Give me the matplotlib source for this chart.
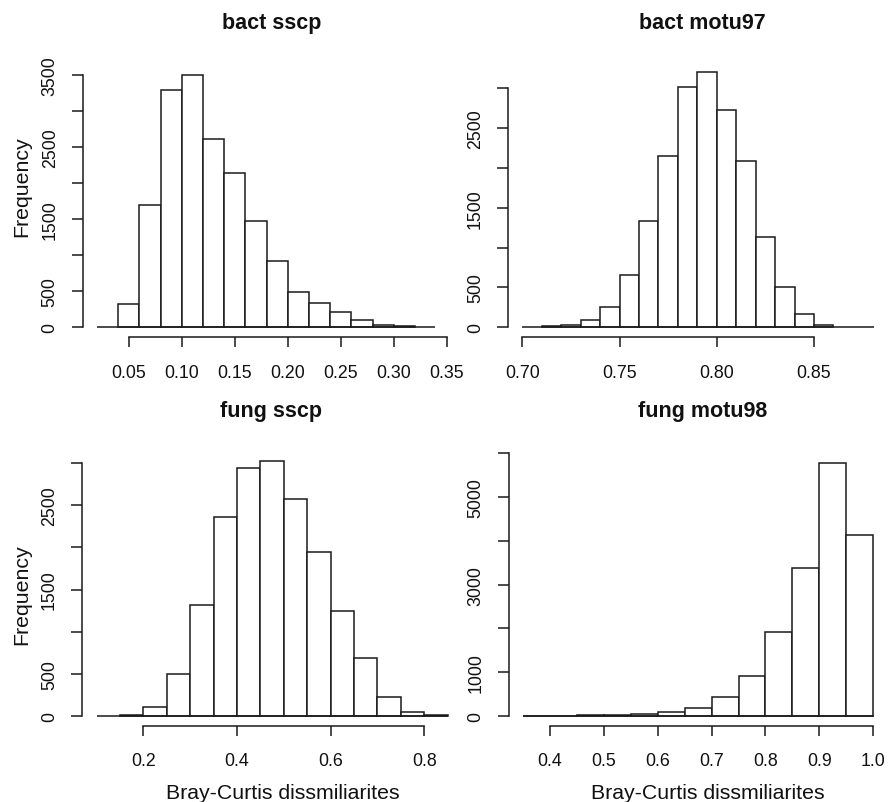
import matplotlib
matplotlib.use("Agg")
import matplotlib.pyplot as plt
import numpy as np

plt.rcParams['font.family'] = ['Liberation Sans', 'DejaVu Sans']

# ---------------- data ----------------
titles = ["bact sscp", "bact motu97", "fung sscp", "fung motu98"]

bact_sscp_start = 0.04
bact_sscp_width = 0.02
bact_sscp_counts = [324, 1697, 3293, 3501, 2613, 2137, 1480, 916, 490, 342, 213, 102, 32, 12]

bact_motu97_start = 0.71
bact_motu97_width = 0.01
bact_motu97_counts = [13, 30, 93, 250, 653, 1339, 2148, 3017, 3208, 2733, 2093, 1136, 500, 161, 30]

fung_sscp_start = 0.15
fung_sscp_width = 0.05
fung_sscp_counts = [8, 108, 500, 1312, 2356, 2940, 3028, 2580, 1948, 1248, 680, 220, 40, 8]

fung_motu98_start = 0.35
fung_motu98_width = 0.05
fung_motu98_counts = [2, 5, 20, 25, 50, 90, 175, 430, 910, 1916, 3389, 5786, 4145]

bact_sscp_xticks = [0.05, 0.10, 0.15, 0.20, 0.25, 0.30, 0.35]
bact_sscp_xlabels = ["0.05", "0.10", "0.15", "0.20", "0.25", "0.30", "0.35"]
bact_motu97_xticks = [0.70, 0.75, 0.80, 0.85]
bact_motu97_xlabels = ["0.70", "0.75", "0.80", "0.85"]
fung_sscp_xticks = [0.2, 0.4, 0.6, 0.8]
fung_sscp_xlabels = ["0.2", "0.4", "0.6", "0.8"]
fung_motu98_xticks = [0.4, 0.5, 0.6, 0.7, 0.8, 0.9, 1.0]
fung_motu98_xlabels = ["0.4", "0.5", "0.6", "0.7", "0.8", "0.9", "1.0"]

bact_sscp_yticks = [0, 500, 1000, 1500, 2000, 2500, 3000, 3500]
bact_sscp_ylabels = ["0", "500", "", "1500", "", "2500", "", "3500"]
bact_motu97_yticks = [0, 500, 1000, 1500, 2000, 2500, 3000]
bact_motu97_ylabels = ["0", "500", "", "1500", "", "2500", ""]
fung_sscp_yticks = [0, 500, 1000, 1500, 2000, 2500, 3000]
fung_sscp_ylabels = ["0", "500", "", "1500", "", "2500", ""]
fung_motu98_yticks = [0, 1000, 2000, 3000, 4000, 5000, 6000]
fung_motu98_ylabels = ["0", "1000", "", "3000", "", "5000", ""]

xlab = "Bray-Curtis dissmiliarites"
ylab = "Frequency"

# ---------------- layout (pixels) ----------------
W, H = 888, 803
fig = plt.figure(figsize=(W / 100, H / 100), dpi=100)

LC = "#1a1a1a"
LW = 1.1

def add_panel(px_left, px_right, px_bottom, px_top, xlim, ylim, baseline,
              start, width, counts, xticks, xlabels, yticks, ylabels):
    ax = fig.add_axes([px_left / W, 1 - px_bottom / H,
                       (px_right - px_left) / W, (px_bottom - px_top) / H])
    ax.set_xlim(*xlim)
    ax.set_ylim(*ylim)
    lefts = [start + i * width for i in range(len(counts))]
    ax.bar(lefts, counts, width=width, align='edge', facecolor='white',
           edgecolor=LC, linewidth=LW, clip_on=False, zorder=2)
    ax.hlines(0, baseline[0], baseline[1], color=LC, linewidth=LW, zorder=3,
              clip_on=False)
    for s in ['top', 'right']:
        ax.spines[s].set_visible(False)
    ax.spines['left'].set_position(('outward', 10.2))
    ax.spines['bottom'].set_position(('outward', 7.2))
    ax.spines['left'].set_bounds(yticks[0], yticks[-1])
    ax.spines['bottom'].set_bounds(xticks[0], xticks[-1])
    for s in ['left', 'bottom']:
        ax.spines[s].set_linewidth(LW)
        ax.spines[s].set_color(LC)
    ax.set_xticks(xticks)
    ax.set_xticklabels(xlabels)
    ax.set_yticks(yticks)
    ax.set_yticklabels(ylabels)
    ax.tick_params(axis='x', length=7.5, width=LW, color=LC, pad=11.5,
                   labelsize=12.8, labelcolor='#111111')
    ax.tick_params(axis='y', length=8, width=LW, color=LC, pad=9.5,
                   labelsize=12.8, labelcolor='#111111', labelrotation=90)
    for lbl in ax.get_yticklabels():
        lbl.set_verticalalignment('center')
    ax.patch.set_alpha(0)
    return ax

add_panel(97.1, 446.9, 328.3, 76.0, (0.02, 0.3501), (0, 3500), (0.02, 0.339),
          bact_sscp_start, bact_sscp_width, bact_sscp_counts,
          bact_sscp_xticks, bact_sscp_xlabels, bact_sscp_yticks, bact_sscp_ylabels)
add_panel(522.3, 874.3, 328.3, 89.3, (0.70, 0.881), (0, 3000), (0.70, 0.881),
          bact_motu97_start, bact_motu97_width, bact_motu97_counts,
          bact_motu97_xticks, bact_motu97_xlabels, bact_motu97_yticks, bact_motu97_ylabels)
add_panel(96.5, 447.7, 716.7, 464.3, (0.10, 0.85), (0, 3000), (0.10, 0.85),
          fung_sscp_start, fung_sscp_width, fung_sscp_counts,
          fung_sscp_xticks, fung_sscp_xlabels, fung_sscp_yticks, fung_sscp_ylabels)
add_panel(523.1, 874.3, 717.0, 454.3, (0.35, 1.002), (0, 6000), (0.35, 1.002),
          fung_motu98_start, fung_motu98_width, fung_motu98_counts,
          fung_motu98_xticks, fung_motu98_xlabels, fung_motu98_yticks, fung_motu98_ylabels)

# titles
title_pos = [(271.7, 29.3), (702.8, 29.3), (271.3, 417.4), (702.5, 417.4)]
for t, (x, y) in zip(titles, title_pos):
    fig.text(x / W, 1 - y / H, t, ha='center', va='baseline',
             fontsize=15.5, fontweight='bold', color='#111111')

# y labels
for y in [186.7, 595.0]:
    fig.text(21.5 / W, 1 - y / H, ylab, rotation=90, ha='center', va='center',
             fontsize=15.3, color='#111111')

# x labels
for x in [283.3, 708.3]:
    fig.text(x / W, 1 - 798.6 / H, xlab, ha='center', va='baseline',
             fontsize=15.3, color='#111111')

fig.savefig("out.png", dpi=100)
